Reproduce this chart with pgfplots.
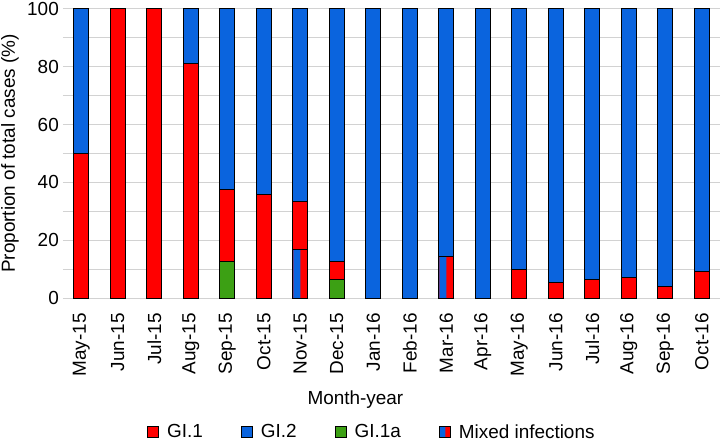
\documentclass[border=0pt]{standalone}
\usepackage{fontspec}
\setmainfont{Liberation Sans}
\usepackage{pgfplots}
\usepackage{pgfplotstable}
\pgfplotsset{compat=1.18}
\definecolor{gred}{RGB}{255,0,0}
\definecolor{gblue}{RGB}{10,100,222}
\definecolor{ggreen}{RGB}{60,160,20}
\definecolor{ggrid}{RGB}{210,210,210}
\pgfdeclarehorizontalshading{mixed}{100bp}{color(0bp)=(gblue); color(50bp)=(gblue); color(50bp)=(gred); color(100bp)=(gred)}
\pgfplotstableread{
x  a     m      g1     g2
0  0     0      50     50
1  0     0      100    0
2  0     0      100    0
3  0     0      81.25  18.75
4  12.5  0      25     62.5
5  0     0      35.7   64.3
6  0     16.67  16.67  66.66
7  6.25  0      6.25   87.5
8  0     0      0      100
9  0     0      0      100
10 0     14.3   0      85.7
11 0     0      0      100
12 0     0      10     90
13 0     0      5.3    94.7
14 0     0      6.25   93.75
15 0     0      7.1    92.9
16 0     0      4      96
17 0     0      9      91
}\data
\pgfplotstableread{
x  m
6  16.67
10 14.3
}\mixed
\begin{document}
\begin{tikzpicture}[font=\fontsize{19}{22}\selectfont]
\path[use as bounding box] (-63bp,-142bp) rectangle (657bp,298bp);
\begin{axis}[
  at={(0,0)}, anchor=south west,
  scale only axis, width=657bp, height=289bp,
  ybar stacked, bar width=15bp,
  xmin=-0.5, xmax=17.5, ymin=0, ymax=100,
  xtick={0,...,17},
  xticklabels={May-15,Jun-15,Jul-15,Aug-15,Sep-15,Oct-15,Nov-15,Dec-15,Jan-16,Feb-16,Mar-16,Apr-16,May-16,Jun-16,Jul-16,Aug-16,Sep-16,Oct-16},
  ytick={0,20,...,100},
  minor ytick={10,30,...,90},
  ymajorgrids, yminorgrids,
  grid style={ggrid, line width=1bp},
  minor grid style={ggrid, line width=1bp},
  axis x line*=bottom,
  axis y line*=left,
  y axis line style={draw=none},
  x axis line style={ggrid, line width=1bp, -},
  tick style={draw=none},
  major tick length=0pt, minor tick length=0pt,
  /pgf/number format/assume math mode=true,
  ticklabel style={font=\fontsize{19}{22}\selectfont},
  yticklabel style={anchor=east, inner sep=0pt, xshift=-4bp},
  xticklabel style={yshift=-15bp, rotate=90, anchor=east, inner sep=0pt},
  ylabel={Proportion of total cases (\%)},
  ylabel style={at={(axis description cs:-0.0807,0.5)}, anchor=center, rotate=0},
  xlabel={Month-year},
  xlabel style={at={(axis description cs:0.445,-0.353)}, anchor=center},
  legend columns=4,
  legend style={at={(axis description cs:0.470,-0.4637)}, anchor=center, draw=none, fill=none,
    font=\fontsize{19}{22}\selectfont, column sep=6bp,
    /tikz/every even column/.append style={column sep=36bp}},
  legend cell align=left,
  clip=false,
]
\addplot[forget plot, fill=ggreen, draw=black, line width=1bp] table[x=x, y=a] {\data};
\addplot[forget plot, fill=gred, draw=black, line width=1bp] table[x=x, y=m] {\data};
\addplot[forget plot, fill=gred, draw=black, line width=1bp] table[x=x, y=g1] {\data};
\addplot[forget plot, fill=gblue, draw=black, line width=1bp] table[x=x, y=g2] {\data};
\addlegendimage{legend image code/.code={\draw[fill=gred, draw=black, line width=1bp] (0bp,-5.5bp) rectangle (11bp,5.5bp);}}
\addlegendentry{GI.1}
\addlegendimage{legend image code/.code={\draw[fill=gblue, draw=black, line width=1bp] (0bp,-5.5bp) rectangle (11bp,5.5bp);}}
\addlegendentry{GI.2}
\addlegendimage{legend image code/.code={\draw[fill=ggreen, draw=black, line width=1bp] (0bp,-5.5bp) rectangle (11bp,5.5bp);}}
\addlegendentry{GI.1a}
\addlegendimage{legend image code/.code={\draw[shade, shading=mixed, draw=black, line width=1bp] (0bp,-5.5bp) rectangle (11bp,5.5bp);}}
\addlegendentry{Mixed infections}
\end{axis}
% overlay: blue left halves of the mixed-infection bars, then their outline
\begin{axis}[
  at={(0,0)}, anchor=south west,
  scale only axis, width=657bp, height=289bp,
  xmin=-0.5, xmax=17.5, ymin=0, ymax=100,
  hide axis, ybar, clip=false,
]
\addplot[fill=gblue, draw=none, bar width=7bp, bar shift=-3.5bp] table[x=x, y=m] {\mixed};
\addplot[fill=none, draw=black, line width=1bp, bar width=15bp, bar shift=0bp] table[x=x, y=m] {\mixed};
\end{axis}
\end{tikzpicture}
\end{document}
